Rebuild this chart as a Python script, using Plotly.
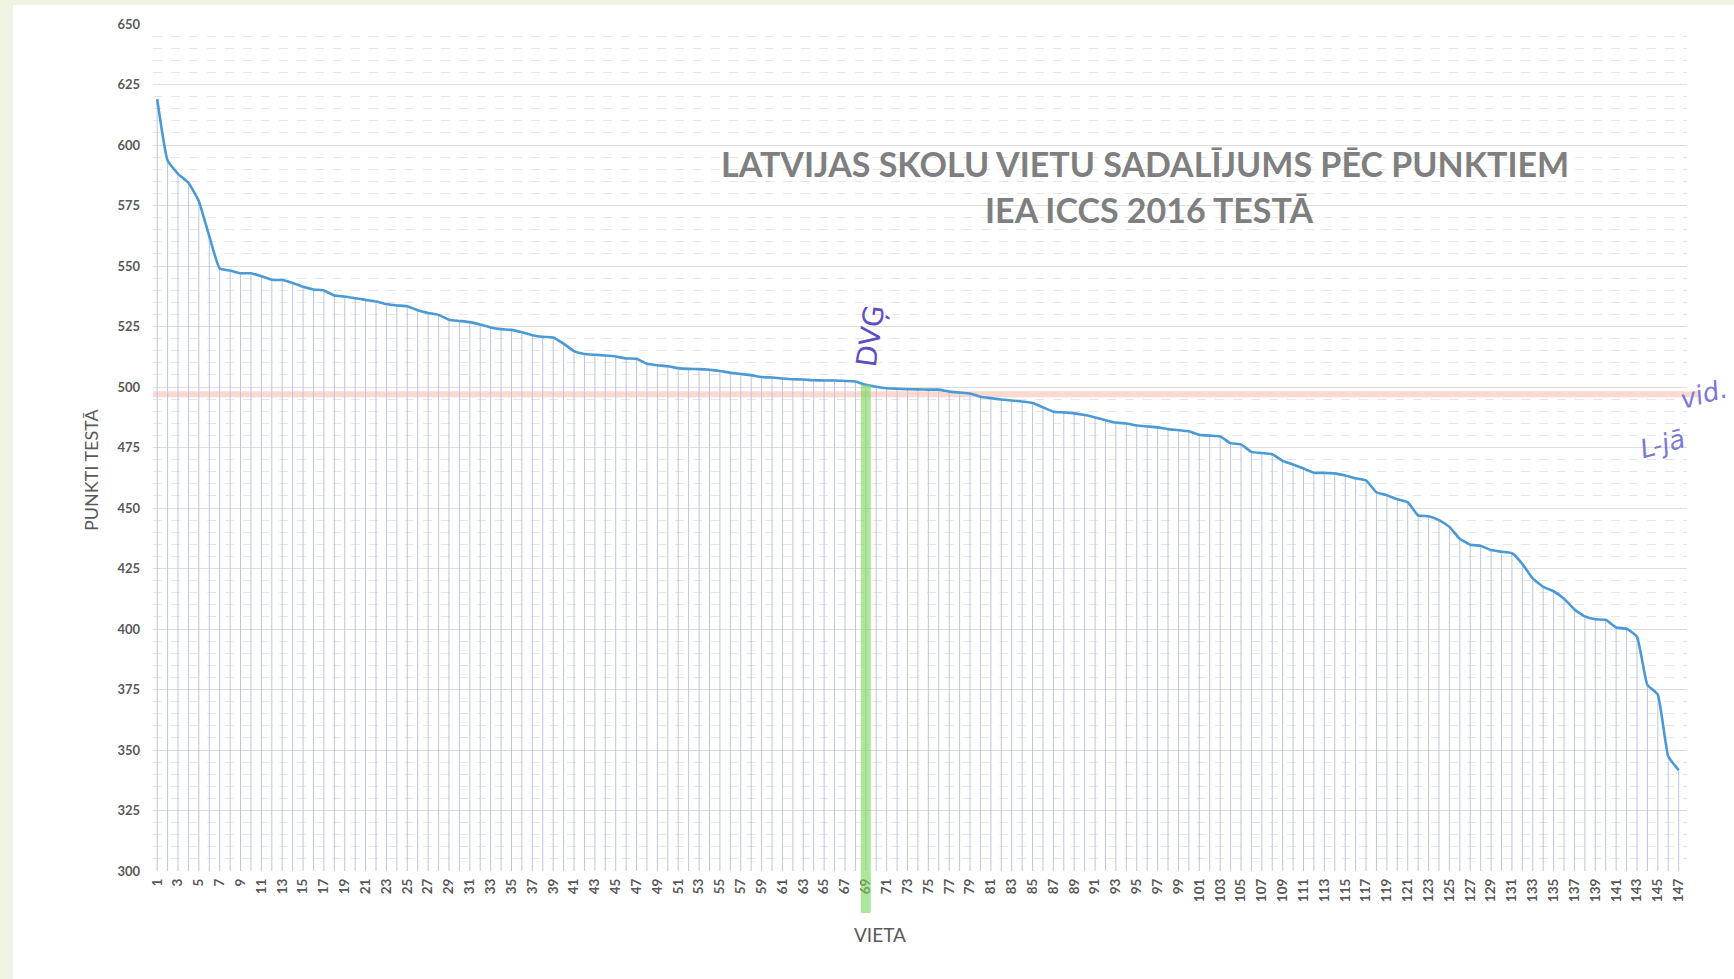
import plotly.graph_objects as go

# ---------------- data ----------------
places = list(range(1, 148))
scores = [
    619.0, 593.6, 588.1, 584.4, 576.8, 562.3, 549.0, 548.1, 547.0, 547.0,
    545.8, 544.3, 544.2, 543.0, 541.4, 540.3, 539.9, 537.8, 537.4, 536.7,
    536.0, 535.3, 534.3, 533.7, 533.4, 531.7, 530.6, 529.8, 527.8, 527.3,
    526.8, 525.8, 524.6, 523.9, 523.6, 522.6, 521.4, 520.7, 520.5, 517.9,
    514.8, 513.6, 513.3, 513.0, 512.6, 511.8, 511.7, 509.6, 509.0, 508.6,
    507.8, 507.5, 507.4, 507.1, 506.6, 505.9, 505.4, 504.9, 504.1, 503.9,
    503.5, 503.2, 503.1, 502.8, 502.7, 502.7, 502.5, 502.3, 500.9, 500.1,
    499.5, 499.3, 499.1, 499.0, 498.9, 498.9, 498.1, 497.7, 497.3, 496.0,
    495.4, 494.8, 494.4, 494.0, 493.4, 491.6, 489.8, 489.5, 489.1, 488.4,
    487.4, 486.3, 485.3, 484.9, 484.1, 483.7, 483.3, 482.6, 482.2, 481.7,
    480.3, 479.9, 479.6, 476.8, 476.3, 473.2, 472.7, 472.2, 469.5, 468.0,
    466.3, 464.6, 464.5, 464.3, 463.4, 462.3, 461.4, 456.5, 455.3, 453.6,
    452.4, 446.9, 446.6, 445.0, 442.2, 437.3, 434.8, 434.4, 432.6, 431.9,
    431.3, 426.9, 420.9, 417.4, 415.6, 412.5, 408.1, 405.2, 404.0, 403.8,
    400.6, 400.1, 396.8, 376.9, 372.9, 347.4, 341.7,
]
tick_places = [p for p in places if p % 2 == 1]
tick_labels = [str(p) for p in tick_places]
y_ticks = [300, 325, 350, 375, 400, 425, 450, 475, 500, 525, 550, 575, 600, 625, 650]
highlight_place = 69
average_score = 497

title_line1 = "LATVIJAS SKOLU VIETU SADALĪJUMS PĒC PUNKTIEM"
title_line2 = "IEA ICCS 2016 TESTĀ"
x_title = "VIETA"
y_title = "PUNKTI TESTĀ"

Y_MIN, Y_MAX = 300, 650

# ---------------- figure ----------------
fig = go.Figure()

# drop lines from each point to the axis
dx, dy = [], []
for p, s in zip(places, scores):
    dx += [p, p, None]
    dy += [Y_MIN, s, None]
fig.add_trace(go.Scatter(x=dx, y=dy, mode="lines",
                         line=dict(color="#bcc5dd", width=1),
                         hoverinfo="skip", showlegend=False))

# main line
fig.add_trace(go.Scatter(x=places, y=scores, mode="lines",
                         line=dict(color="#4b9ad6", width=2.6, shape="spline", smoothing=0.4),
                         showlegend=False))

GREY = "#595959"
W, H = 1734, 979
L, R, T, B = 153, 47, 24, 108
PW, PH = W - L - R, H - T - B

def px_x(v):
    return (v - L) / PW

def px_y(v):
    return (H - B - v) / PH

shapes = [
    # page background strips
    dict(type="rect", xref="paper", yref="paper", x0=px_x(0), x1=px_x(13), y0=px_y(H), y1=px_y(0),
         fillcolor="#eff3e1", line=dict(width=0), layer="below"),
    dict(type="rect", xref="paper", yref="paper", x0=px_x(0), x1=px_x(W), y0=px_y(5), y1=px_y(0),
         fillcolor="#eff3e1", line=dict(width=0), layer="below"),
    # white box behind the title
    dict(type="rect", xref="paper", yref="paper", x0=px_x(717), x1=px_x(1581), y0=px_y(262), y1=px_y(94),
         fillcolor="white", line=dict(width=0), layer="between"),
    # average line
    dict(type="line", xref="paper", yref="y", x0=0, x1=px_x(1700), y0=average_score, y1=average_score,
         line=dict(color="rgba(248,170,150,0.45)", width=6), layer="between"),
    # highlight for DVĢ
    dict(type="line", xref="x", yref="paper", x0=highlight_place, x1=highlight_place,
         y0=px_y(913), y1=(scores[highlight_place - 1] - Y_MIN) / (Y_MAX - Y_MIN),
         line=dict(color="rgba(120,215,90,0.6)", width=10), layer="above"),
]

TFONT = dict(family="Lato, Open Sans, sans-serif", size=34, color="#7f7f7f", weight="bold")
HAND = "#5b4fc4"
annotations = [
    dict(text=title_line1, xref="paper", yref="paper", x=px_x(1145), y=px_y(163),
         showarrow=False, xanchor="center", yanchor="middle", font=TFONT),
    dict(text=title_line2, xref="paper", yref="paper", x=px_x(1149), y=px_y(210),
         showarrow=False, xanchor="center", yanchor="middle", font=TFONT),
    dict(text=y_title, xref="paper", yref="paper", x=px_x(91), y=px_y(470),
         showarrow=False, textangle=-90, xanchor="center", yanchor="middle",
         font=dict(family="Lato, Open Sans, sans-serif", size=18, color=GREY)),
    dict(text=x_title, xref="paper", yref="paper", x=px_x(880), y=px_y(934),
         showarrow=False, xanchor="center", yanchor="middle",
         font=dict(family="Lato, Open Sans, sans-serif", size=19, color=GREY)),
    dict(text="DVĢ", xref="paper", yref="paper", x=px_x(870), y=px_y(336),
         showarrow=False, textangle=-82, xanchor="center", yanchor="middle",
         font=dict(family="DejaVu Sans, sans-serif", size=28, color=HAND)),
    dict(text="vid.", xref="paper", yref="paper", x=px_x(1704), y=px_y(394),
         showarrow=False, textangle=-15, xanchor="center", yanchor="middle",
         font=dict(family="DejaVu Sans, sans-serif", size=26, color="#7c78d6", style="italic")),
    dict(text="L-jā", xref="paper", yref="paper", x=px_x(1662), y=px_y(444),
         showarrow=False, textangle=-15, xanchor="center", yanchor="middle",
         font=dict(family="DejaVu Sans, sans-serif", size=26, color="#7c78d6", style="italic")),
]

fig.update_layout(
    width=W, height=H,
    margin=dict(l=L, r=R, t=T, b=B),
    paper_bgcolor="white", plot_bgcolor="white",
    shapes=shapes, annotations=annotations,
    showlegend=False,
)
fig.update_xaxes(
    range=[0.6, 147.8], showgrid=False, zeroline=False, showline=False,
    tickmode="array", tickvals=tick_places, ticktext=tick_labels,
    tickangle=-90, ticks="", ticklabelstandoff=4,
    tickfont=dict(family="Lato, Open Sans, sans-serif", size=13.5, color=GREY, weight="bold"),
)
fig.update_yaxes(
    range=[Y_MIN, Y_MAX], tickmode="array", tickvals=y_ticks,
    showgrid=True, gridcolor="#dedede", gridwidth=1,
    zeroline=False, showline=False, ticks="", ticklabelstandoff=12,
    tickfont=dict(family="Lato, Open Sans, sans-serif", size=13, color=GREY, weight="bold"),
    minor=dict(dtick=5, showgrid=True, gridcolor="#e6e6e6", griddash="dash", gridwidth=1),
)

fig.write_html("out.html", config={"displayModeBar": False},
               post_script="document.body.style.margin='0';document.body.style.overflow='hidden';")
